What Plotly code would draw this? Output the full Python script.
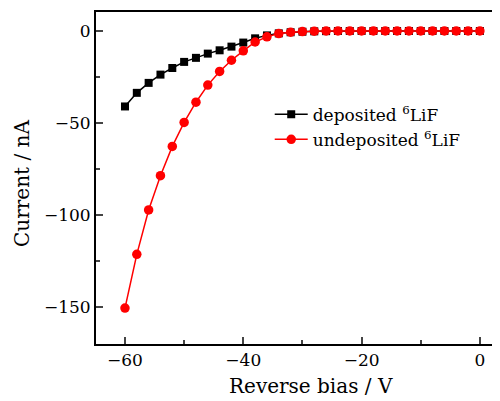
import plotly.graph_objects as go

bias = [-60, -58, -56, -54, -52, -50, -48, -46, -44, -42, -40, -38, -36, -34, -32, -30,
        -28, -26, -24, -22, -20, -18, -16, -14, -12, -10, -8, -6, -4, -2, 0]
deposited = [-41.0, -33.6, -28.2, -23.7, -20.1, -16.8, -14.6, -12.3, -10.5, -8.5, -6.3, -4.0,
             -2.4, -1.3, -0.7, -0.4, -0.2, -0.1, 0, 0, 0, 0, 0, 0, 0, 0, 0, 0, 0, 0, 0]
undeposited = [-150.5, -121.3, -97.2, -78.6, -62.7, -49.7, -38.7, -29.4, -22.0, -15.9, -10.8, -6.0,
               -3.2, -1.4, -0.7, -0.3, -0.1, 0, 0, 0, 0, 0, 0, 0, 0, 0, 0, 0, 0, 0, 0]

FONT = "DejaVu Serif"
FS = 17
TFS = 20
# page body has an 8px default margin; size the figure so the plot lands in place
W, H = 492, 393
L, T, B = 88, 4, 57
PW, PH = W - L, H - T - B

fig = go.Figure()
fig.add_trace(go.Scatter(x=bias, y=deposited, mode="lines+markers", name="deposited <sup>6</sup>LiF",
                         line=dict(color="black", width=1.5),
                         marker=dict(symbol="square", size=8, color="black")))
fig.add_trace(go.Scatter(x=bias, y=undeposited, mode="lines+markers", name="undeposited <sup>6</sup>LiF",
                         line=dict(color="#ff0000", width=1.5),
                         marker=dict(symbol="circle", size=9.5, color="#ff0000")))

fig.update_layout(
    width=W, height=H,
    margin=dict(l=L, r=0, t=T, b=B, autoexpand=False),
    plot_bgcolor="white", paper_bgcolor="white",
    font=dict(family=FONT, size=FS, color="black"),
    showlegend=True,
    legend=dict(x=0.43, y=0.745, xanchor="left", yanchor="top",
                bgcolor="rgba(0,0,0,0)", font=dict(size=FS), tracegroupgap=0,
                itemwidth=33),
    xaxis=dict(range=[-64.9, 3.4], dtick=20, tick0=0, ticks="inside", ticklen=7, tickwidth=1.5,
               showline=True, linewidth=2, linecolor="black", mirror=True, showgrid=False,
               zeroline=False, tickfont=dict(size=FS), automargin=False,
               minor=dict(dtick=10, tick0=0, ticks="inside", ticklen=4, tickwidth=1.5, showgrid=False)),
    yaxis=dict(range=[-170, 10.3], dtick=50, tick0=0, ticks="inside", ticklen=7, tickwidth=1.5,
               showline=True, linewidth=2, linecolor="black", showgrid=False,
               zeroline=False, tickfont=dict(size=FS), automargin=False,
               minor=dict(dtick=25, tick0=0, ticks="inside", ticklen=4, tickwidth=1.5, showgrid=False)),
)
fig.add_annotation(text="Reverse bias / V", xref="paper", yref="paper",
                   x=(311 - 96) / PW, y=-(386 - 344) / PH, showarrow=False, yanchor="middle",
                   font=dict(size=TFS))
fig.add_annotation(text="Current / nA", xref="paper", yref="paper",
                   x=-(96 - 22) / PW, y=(344 - 184) / PH, showarrow=False, textangle=-90,
                   xanchor="center", yanchor="middle", font=dict(size=TFS))
fig.write_html("out.html")
